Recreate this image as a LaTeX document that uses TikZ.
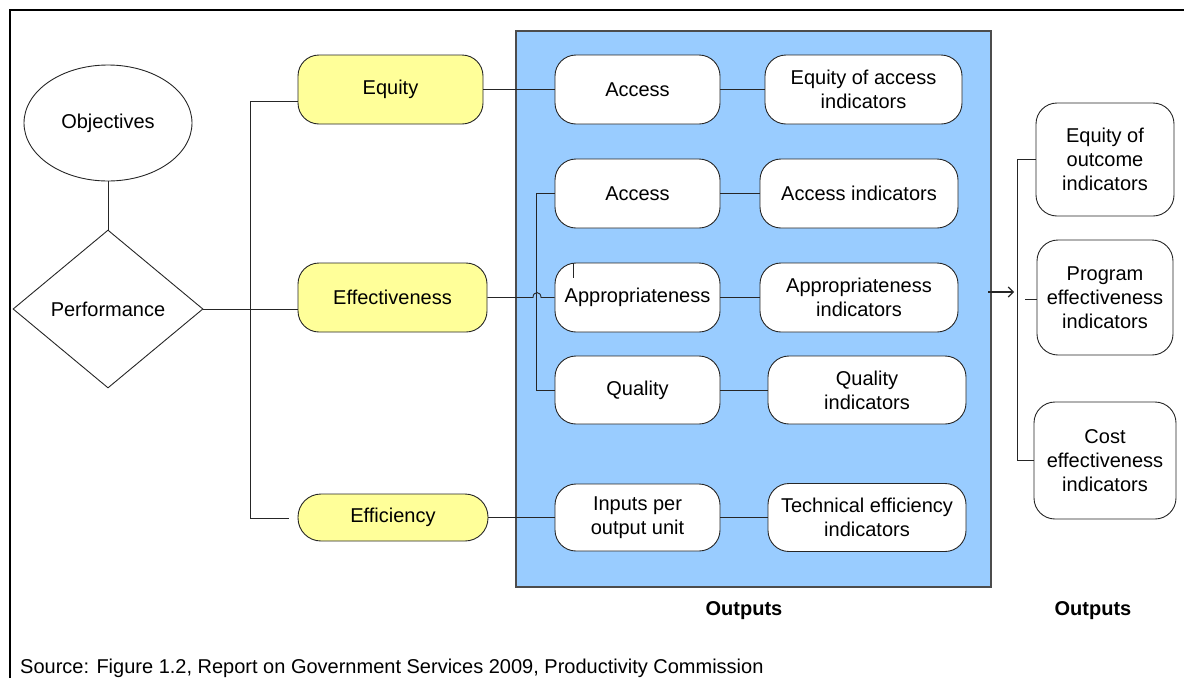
\documentclass[tikz,border=0pt]{standalone}
\usepackage{fontspec}
\setmainfont{Liberation Sans}
\usetikzlibrary{shapes.geometric,arrows.meta}
\definecolor{yel}{HTML}{FFFF99}
\definecolor{blu}{HTML}{99CCFF}
\begin{document}
\begin{tikzpicture}[x=1pt,y=-1pt,
  font=\fontsize{20}{24}\selectfont,
  box/.style={draw=black!85, line width=0.9pt, fill=white, rounded corners=21pt, align=center, inner sep=0pt},
  ybox/.style={box, fill=yel},
  conn/.style={draw=black!85, line width=0.9pt},
  lbl/.style={font=\fontsize{20}{24}\selectfont\bfseries}]
\useasboundingbox (0,0) rectangle (1184,678);
% frame
\coordinate (f1) at (10,678);
\coordinate (f2) at (10,10);
\coordinate (f3) at (1184,10);
\draw[line width=2pt] (f1) -- (f2) -- (f3);
% panel
\node[draw=black!70, line width=1.3pt, fill=blu, minimum width=475pt, minimum height=556pt, inner sep=0pt] (panel) at (753.5,309) {};
% left
\node[ellipse, draw=black!85, line width=0.9pt, minimum width=168pt, minimum height=116pt, inner sep=0pt] (obj) at (108,123) {Objectives};
\node[diamond, draw=black!85, line width=0.9pt, minimum width=190pt, minimum height=158pt, inner sep=2pt] (perf) at (108,309) {Performance};
% yellow
\node[ybox, minimum width=185pt, minimum height=69pt] (equ) at (390.5,89.5) {Equity};
\node[ybox, minimum width=189pt, minimum height=69pt] (eff) at (392.5,297.5) {Effectiveness};
\node[ybox, rounded corners=23pt, minimum width=190pt, minimum height=47pt] (effi) at (393,517.5) {Efficiency};
% inner boxes
\node[box, minimum width=165pt, minimum height=69pt] (acc1) at (637.5,89.5) {Access};
\node[box, minimum width=197pt, minimum height=69pt] (eqa) at (863.5,89.5) {Equity of access\\indicators};
\node[box, minimum width=165pt, minimum height=69pt] (acc2) at (637.5,193.5) {Access};
\node[box, minimum width=198pt, minimum height=69pt] (acci) at (859,193.5) {Access indicators};
\node[box, minimum width=165pt, minimum height=69pt] (app) at (637.5,297.5) {Appropriateness};
\node[box, minimum width=198pt, minimum height=69pt] (appi) at (859,297.5) {Appropriateness\\indicators};
\node[box, minimum width=165pt, minimum height=68pt] (qual) at (637.5,390) {Quality};
\node[box, minimum width=198pt, minimum height=68pt] (quali) at (867,390) {Quality\\indicators};
\node[box, minimum width=165pt, minimum height=67pt] (inp) at (637.5,517.5) {Inputs per\\output unit};
\node[box, minimum width=198pt, minimum height=68pt] (tei) at (867,517.5) {Technical efficiency\\indicators};
% right boxes
\node[box, minimum width=138pt, minimum height=113pt] (eo) at (1105,159.5) {Equity of\\outcome\\indicators};
\node[box, minimum width=136pt, minimum height=115pt] (pe) at (1105,297.5) {Program\\effectiveness\\indicators};
\node[box, minimum width=142pt, minimum height=117pt] (ce) at (1105,460.5) {Cost\\effectiveness\\indicators};
% connectors left
\draw[conn] (obj.south) -- (perf.north);
\draw[conn] (perf.east) -- (perf.east -| eff.west);
\coordinate (lt) at (298,101);
\coordinate (lb) at (289,518);
\draw[conn] (lt) -- (250,101) -- (250,518) -- (lb);
\draw[conn] (equ.east) -- (acc1.west);
\draw[conn] (eff.east) -- (533,297.5) .. controls (533,291) and (541,291) .. (541,297.5) -- (app.west);
\draw[conn] (effi.east) -- (inp.west);
\draw[conn] (acc2.west) -- ++(-18,0) |- (qual.west);
% inner links
\draw[conn] (acc1.east) -- (eqa.west);
\draw[conn] (acc2.east) -- (acci.west);
\draw[conn] (app.east) -- (appi.west);
\draw[conn] (qual.east) -- (quali.west);
\draw[conn] (inp.east) -- (tei.west);
% tick in appropriateness
\coordinate (tk1) at (573,263);
\coordinate (tk2) at (573,278);
\draw[conn] (tk1) -- (tk2);
% right bracket
\draw[conn] (eo.west) -- ++(-18,0) |- (ce.west);
\coordinate (pm) at (1025,299);
\draw[conn] (pm) -- (pm -| pe.west);
\coordinate (ar1) at (988,292);
\coordinate (ar2) at (1014,292);
\draw[conn, line width=1.1pt, -{Straight Barb[length=5pt,width=10pt]}] (ar1) -- (ar2);
% labels
\node[lbl] (out1) at (744,611) {Outputs};
\node[lbl] (out2) at (1093,611) {Outputs};
\node[anchor=base west, inner sep=0pt] (src) at (20,673) {Source: Figure 1.2, Report on Government Services 2009, Productivity Commission};
\end{tikzpicture}
\end{document}
